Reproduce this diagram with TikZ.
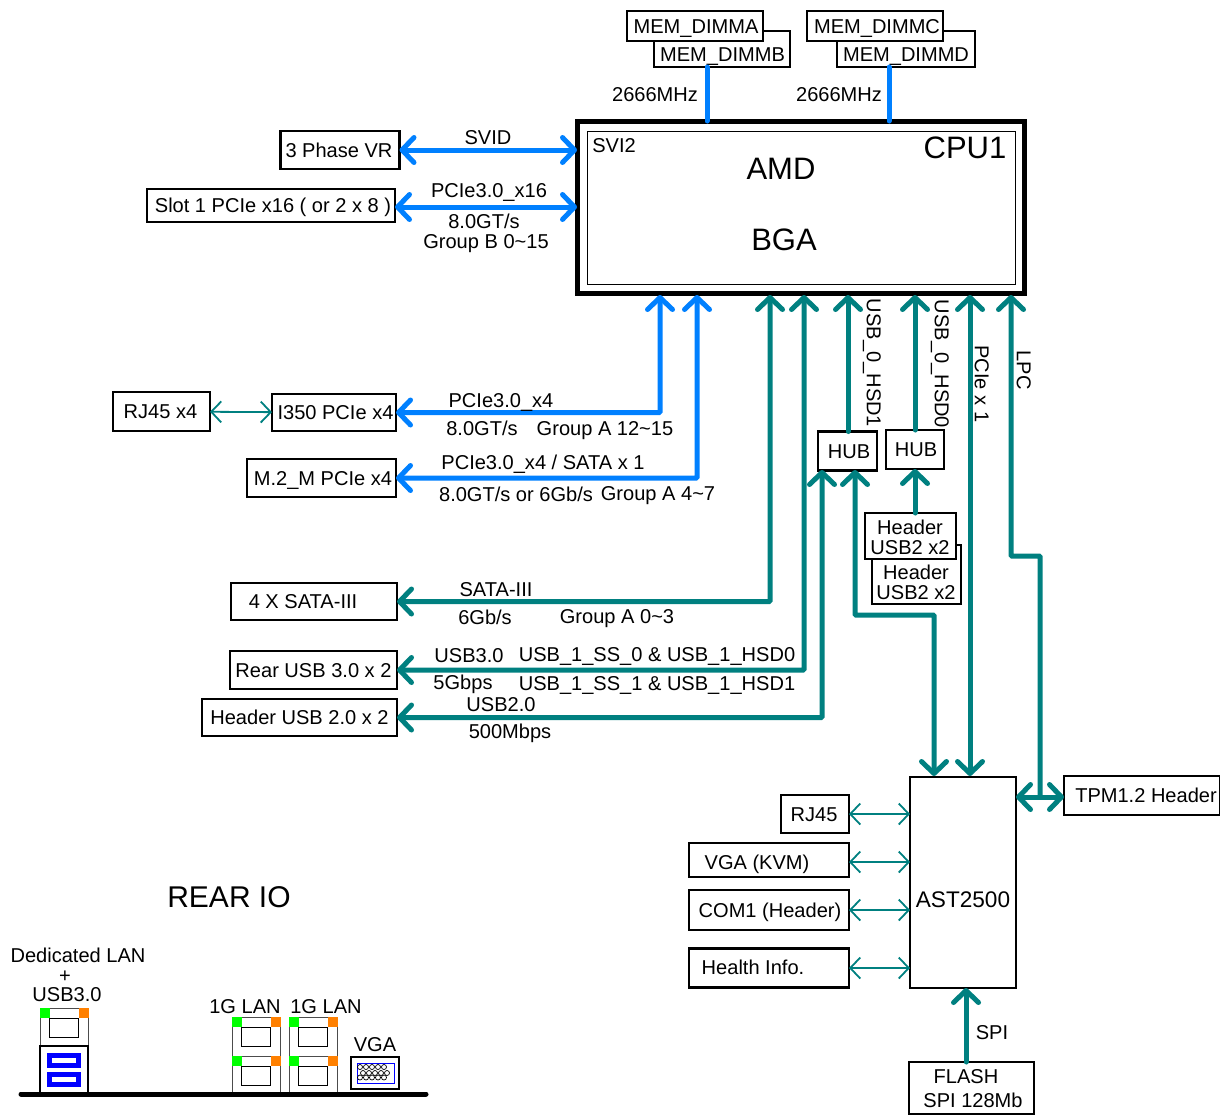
\documentclass[tikz,border=0pt]{standalone}
\usepackage{fontspec}
\setmainfont{Liberation Sans}
\usepackage[dvipsnames]{xcolor}
\usetikzlibrary{
	positioning,
	arrows.meta
}
\definecolor{busblue}{HTML}{0080FF}
\definecolor{busteal}{HTML}{008080}
\definecolor{ledgreen}{HTML}{00FF00}
\definecolor{ledorange}{HTML}{FF8000}
\definecolor{usbblue}{HTML}{0000FF}
\tikzset{
	every node/.style={font=\fontsize{20.05}{23}\selectfont,inner sep=0pt,outer sep=0pt,align=center,text height=14.5pt,text depth=0pt},
	box/.style={draw,line width=2.5pt,fill=white},
	big/.style={font=\fontsize{31}{36}\selectfont,text height=22pt},
	thick bus/.style={line width=5pt,line cap=round,arrows={-}},
	fatblue/.style={thick bus,draw=busblue},
	fatteal/.style={thick bus,draw=busteal},
	thinteal/.style={draw=busteal,line width=1.8pt,{Straight Barb[length=10pt,width=21pt,line width=1.8pt]}-{Straight Barb[length=10pt,width=21pt,line width=1.8pt]}},
	tip both/.style={{Straight Barb[length=12pt,width=25pt,round]}-{Straight Barb[length=12pt,width=25pt,round]}},
	tip end/.style={-{Straight Barb[length=12pt,width=25pt,round]}},
	tip start/.style={{Straight Barb[length=12pt,width=25pt,round]}-}
}

\begin{document}
\begin{tikzpicture}[x=1pt,y=-1pt]
	\useasboundingbox (0,0) rectangle (1220,1114);

	% cpu
	\node[draw,line width=5pt,minimum width=447,minimum height=172] (cpu) at (800.5,207.5) {};
	\node[draw,line width=0.8pt,minimum width=428,minimum height=153] (cpuin) at (801,207.5) {};
	\node (svi) at (614,145) {SVI2};
	\node[big] (cpuname) at (965,147) {CPU1};
	\node[big] (amd) at (781,168) {AMD};
	\node[big] (bga) at (784,239) {BGA};

	% memory
	\node[box,minimum width=136,minimum height=36] (dimmb) at (722,49) {};
	\node[box,minimum width=136,minimum height=30] (dimma) at (695,26) {\hspace*{2pt}MEM\_DIMMA};
	\node[box,minimum width=138,minimum height=36] (dimmd) at (906,49) {};
	\node[box,minimum width=136,minimum height=30] (dimmc) at (875,26) {\hspace*{4pt}MEM\_DIMMC};
	\node (dimmbtxt) at (722.5,54) {MEM\_DIMMB};
	\node (dimmdtxt) at (906,54) {MEM\_DIMMD};
	\node (mhza) at (655,94) {2666MHz};
	\node (mhzb) at (839,94) {2666MHz};

	% left side boxes
	\node[box,minimum width=119,minimum height=38] (vr) at (340,150) {\hspace*{-2pt}3 Phase VR};
	\node[box,minimum width=248,minimum height=33] (slot) at (271,205.5) {\hspace*{4pt}Slot 1 PCIe x16 ( or 2 x 8 )};
	\node[box,minimum width=97,minimum height=39] (rj) at (161.5,411.5) {\hspace*{-2pt}RJ45 x4};
	\node[box,minimum width=124,minimum height=37] (lan) at (334,412.5) {\hspace*{3pt}I350 PCIe x4};
	\node[box,minimum width=149,minimum height=38] (mtwo) at (321.5,478) {\hspace*{3pt}M.2\_M PCIe x4};
	\node[box,minimum width=166,minimum height=37] (sata) at (314,601.5) {\hspace*{-22pt}4 X SATA-III};
	\node[box,minimum width=167,minimum height=38] (rear) at (313.5,670) {Rear USB 3.0 x 2};
	\node[box,minimum width=195,minimum height=37] (hdr) at (299.5,717.5) {Header USB 2.0 x 2};

	% hubs
	\node[box,minimum width=59,minimum height=39] (huba) at (847.5,451) {\hspace*{3pt}HUB};
	\node[box,minimum width=58,minimum height=39] (hubb) at (915,449.5) {\hspace*{2pt}HUB};
	\node[box,minimum width=89,minimum height=59] (usbb) at (916.5,574.5) {};
	\node[box,minimum width=91,minimum height=46] (usba) at (910.5,536) {};
	\node (usbatop) at (910,527) {Header};
	\node (usbabot) at (910,547) {USB2 x2};
	\node (usbbtop) at (916,572) {Header};
	\node (usbbbot) at (916,592) {USB2 x2};

	% bmc
	\node[draw,fill=white,line width=2pt,minimum width=106,minimum height=211] (ast) at (963,882.5) {};
	\node[font=\fontsize{22.6}{26}\selectfont,text height=16pt] (asttxt) at (963,899) {AST2500};
	\node[box,minimum width=156,minimum height=39] (tpm) at (1142,795.5) {\hspace*{8pt}TPM1.2 Header};
	\node[box,minimum width=68,minimum height=38] (rjb) at (815,814) {\hspace*{-2pt}RJ45};
	\node[box,minimum width=160,minimum height=34] (vga) at (769,860) {};
	\node[box,minimum width=160,minimum height=40] (com) at (769,910) {\hspace*{2pt}COM1 (Header)};
	\node[box,minimum width=160,minimum height=39] (health) at (769,968) {};
	\node[box,minimum width=125,minimum height=52] (flash) at (971.5,1088) {};
	\node (vgatxt) at (757,862) {VGA (KVM)};
	\node (healthtxt) at (753,967) {Health Info.};
	\node (flasha) at (966,1076) {FLASH};
	\node (flashb) at (973,1100) {SPI 128Mb};

	% where the buses meet the cpu
	\foreach \name/\xpos in {toLan/660,toM/697,toSata/770,toRear/804,toHuba/848,toHubb/915,toPcie/970,toLpc/1011}
		\coordinate (\name) at (\xpos,295);
	\coordinate (fromHdr) at (822,470);
	\coordinate (fromBmc) at (855,470);
	\coordinate (bmcUsb) at (934,776);
	\coordinate (bmcPcie) at (970,776);
	\coordinate (tpmJoin) at (1040,797);

	% blue buses
	\draw[fatblue] (dimmb.south -| 707,0) -- (707,121);
	\draw[fatblue] (dimmd.south -| 889,0) -- (889,121);
	\draw[fatblue,tip both] (vr.east) -- (vr.east -| cpu.west);
	\draw[fatblue,tip both] (slot.east |- 0,207) -- (cpu.west |- 0,207);
	\draw[fatblue,tip both,rounded corners=1pt] (lan.east) -| (toLan);
	\draw[fatblue,tip both,rounded corners=1pt] (mtwo.east) -| (toM);

	% teal buses
	\draw[fatteal,tip both,rounded corners=1pt] (sata.east) -| (toSata);
	\draw[fatteal,tip both,rounded corners=1pt] (rear.east) -| (toRear);
	\draw[fatteal,tip both,rounded corners=1pt] (hdr.east) -| (fromHdr);
	\draw[fatteal,tip end] (huba.north -| toHuba) -- (toHuba);
	\draw[fatteal,tip end] (hubb.north -| toHubb) -- (toHubb);
	\draw[fatteal,tip end] (usba.north -| toHubb) -- (hubb.south -| toHubb);
	\draw[fatteal,tip both,rounded corners=1pt] (fromBmc) |- (934,615) -- (bmcUsb);
	\draw[fatteal,tip both] (toPcie) -- (bmcPcie);
	\draw[fatteal,tip start,rounded corners=1pt] (toLpc) |- (1040,556) -- (tpmJoin);
	\draw[fatteal,tip both] (tpmJoin -| ast.east) -- (tpmJoin -| tpm.west);
	\draw[fatteal,tip end] (flash.north -| 966,0) -- (ast.south -| 966,0);

	% thin links
	\draw[thinteal] (rj) -- (lan);
	\draw[thinteal] (rjb.east) -- (ast.west |- rjb.east);
	\draw[thinteal] (vga.east |- 0,862) -- (ast.west |- 0,862);
	\draw[thinteal] (com.east) -- (ast.west |- com.east);
	\draw[thinteal] (health.east) -- (ast.west |- health.east);

	% labels
	\node (svid) at (488,137) {SVID};
	\node (pcia) at (489,190) {PCIe3.0\_x16};
	\node (gta) at (484,221) {8.0GT/s};
	\node (grpb) at (486,241) {Group B 0\textasciitilde15};
	\node (pcib) at (501,400) {PCIe3.0\_x4};
	\node (gtb) at (482,428) {8.0GT/s};
	\node (grpa) at (605,428) {Group A 12\textasciitilde15};
	\node (pcic) at (543,462) {PCIe3.0\_x4 / SATA x 1};
	\node (gtc) at (516,494) {8.0GT/s or 6Gb/s};
	\node (grpc) at (658,493) {Group A 4\textasciitilde7};
	\node (satatxt) at (496,589) {SATA-III};
	\node (sixgb) at (485,617) {6Gb/s};
	\node (grpd) at (617,616) {Group A 0\textasciitilde3};
	\node (usbc) at (469,655) {USB3.0};
	\node (ssa) at (657,654) {USB\_1\_SS\_0 \& USB\_1\_HSD0};
	\node (fivegb) at (463,682) {5Gbps};
	\node (ssb) at (657,683) {USB\_1\_SS\_1 \& USB\_1\_HSD1};
	\node (usbd) at (501,704) {USB2.0};
	\node (fivemb) at (510,731) {500Mbps};
	\node[rotate=-90] (hsdb) at (874,363) {USB\_0\_HSD1};
	\node[rotate=-90] (hsda) at (942,364) {USB\_0\_HSD0};
	\node[rotate=-90] (pcix) at (982,384) {PCIe x 1};
	\node[rotate=-90] (lpc) at (1024,370) {LPC};
	\node (spi) at (992,1032) {SPI};

	% rear io
	\node[font=\fontsize{30}{34}\selectfont,text height=21.5pt] (reario) at (229,897) {REAR IO};
	\node (ded) at (78,955) {Dedicated LAN};
	\node (plus) at (65,975) {+};
	\node (usbe) at (67,994) {USB3.0};
	\node (gbea) at (245,1006) {1G LAN};
	\node (gbeb) at (326,1006) {1G LAN};
	\node (vgab) at (375,1044) {VGA};

	\foreach \xpos/\ypos/\high in {40/1008/38,232/1017/39,232/1056/37,289/1017/39,289/1056/37} {
		\draw[line width=0.8pt,draw=black!70] (\xpos,\ypos) rectangle ++(48.5,\high);
		\fill[ledgreen] (\xpos,\ypos) rectangle ++(10,10);
		\fill[ledorange] (\xpos+38.5,\ypos) rectangle ++(10,10);
		\draw[line width=1pt] (\xpos+9.5,\ypos+10) rectangle ++(29,19);
	}
	\draw[line width=2.5pt] (40,1046) rectangle (88,1093);
	\foreach \ypos in {1053,1072} {
		\fill[usbblue] (47,\ypos) rectangle ++(34,14.5);
		\fill[white] (52,\ypos+5) rectangle ++(24,5);
	}
	\draw[line width=2.2pt] (351,1057) rectangle (399,1089);
	\draw[usbblue,line width=0.8pt] (357,1063) rectangle (394,1083);
	\foreach \ypos/\xoff in {1067/0,1073/3,1077.5/0}
		\foreach \xpos in {360,366,372,378,384}
			\draw[line width=0.7pt] (\xpos+\xoff,\ypos) circle (2.5);
	\draw[line width=5pt,line cap=round] (21,1094) -- (426,1094);
\end{tikzpicture}
\end{document}
